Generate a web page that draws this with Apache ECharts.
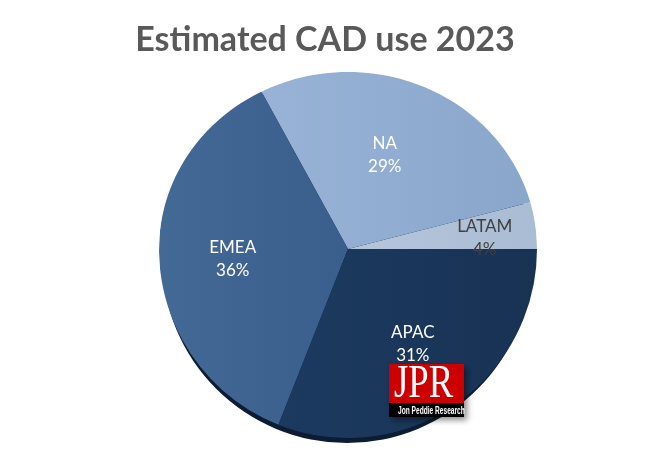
<!DOCTYPE html>
<html>
<head>
<meta charset="utf-8">
<style>
  html, body { margin: 0; padding: 0; background: #fff; }
  #container { width: 652px; height: 462px; }
</style>
<script src="https://cdn.jsdelivr.net/npm/echarts@6/dist/echarts.min.js"></script>
</head>
<body>
<div id="container"></div>
<script>
var titleText = 'Estimated CAD use 2023'
var regions = ['LATAM', 'NA', 'EMEA', 'APAC']
var shares = [4, 29, 36, 31]

var sliceColors = {
  LATAM: ['#b5c6dc', '#aabcd3'],
  NA: ['#98b3d6', '#89a6cb'],
  EMEA: ['#436995', '#3a5e8d'],
  APAC: ['#1c3a60', '#183254']
}
var labelColors = { LATAM: '#404040', NA: '#fff', EMEA: '#fff', APAC: '#fff' }
var labelOffsets = { LATAM: [40, 1], NA: [-2, -5], EMEA: [-18, 4], APAC: [10, 14] }

var cx = 348, cy = 249, r = 189
// the original pie is tilted: its far half is flatter than the near half
var farRadius = 177

var myChart = echarts.init(document.getElementById('container'))

var pieData = regions.map(function(name, i) {
  return {
    name: name,
    value: shares[i],
    itemStyle: {
      color: new echarts.graphic.LinearGradient(0, 0, 1, 0, [
        { offset: 0, color: sliceColors[name][0] },
        { offset: 1, color: sliceColors[name][1] }
      ])
    },
    label: { color: labelColors[name], offset: labelOffsets[name] }
  }
})

// white cover that trims the top of the circle down to the flatter arc
var maskPoints = [[cx + r + 4, cy], [cx + r + 4, cy - r - 3], [cx - r - 4, cy - r - 3], [cx - r - 4, cy]]
for (var a = 180; a >= 0; a -= 2) {
  var t = a * Math.PI / 180
  maskPoints.push([cx + r * Math.cos(t), cy - farRadius * Math.sin(t)])
}

myChart.setOption({
  animation: false,
  title: {
    text: titleText,
    left: 320,
    top: 18,
    textAlign: 'center',
    textStyle: { fontFamily: 'Lato', fontSize: 34, fontWeight: 'bold', color: '#595959' }
  },
  series: [
    {
      // dark rim under the pie
      type: 'pie',
      silent: true,
      z: 1,
      center: [cx - 1, cy + 9],
      radius: r - 4,
      label: { show: false },
      labelLine: { show: false },
      itemStyle: { color: '#0b1c33' },
      data: [{ name: 'rim', value: 1 }]
    },
    {
      type: 'pie',
      z: 2,
      center: [cx, cy],
      radius: r,
      startAngle: 0,
      clockwise: false,
      label: {
        show: true,
        position: 'inner',
        formatter: '{b}\n{d}%',
        fontFamily: 'Lato',
        fontSize: 17,
        lineHeight: 23
      },
      labelLine: { show: false },
      data: pieData
    }
  ],
  graphic: [
    {
      type: 'polygon',
      z: 5,
      silent: true,
      shape: { points: maskPoints },
      style: { fill: '#fff' }
    },
    {
      type: 'group',
      x: 389,
      y: 364,
      children: [
        { type: 'rect', z: 10, shape: { x: 0, y: 0, width: 75, height: 53 },
          style: { fill: '#000', shadowBlur: 6, shadowOffsetX: 3, shadowOffsetY: 3, shadowColor: 'rgba(0,0,0,0.45)' } },
        { type: 'rect', z: 11, shape: { x: 0, y: 0, width: 75, height: 39 }, style: { fill: '#cc0000' } },
        { type: 'text', z: 12, x: 5, y: -3, scaleX: 0.78,
          style: { text: 'JPR', fill: '#fff', fontFamily: 'Liberation Serif', fontSize: 47 } },
        { type: 'text', z: 12, x: 9, y: 41, scaleX: 0.6,
          style: { text: 'Jon Peddie Research', fill: '#fff', fontFamily: 'Liberation Sans', fontSize: 11, fontWeight: 'bold' } }
      ]
    }
  ]
})
</script>
</body>
</html>
